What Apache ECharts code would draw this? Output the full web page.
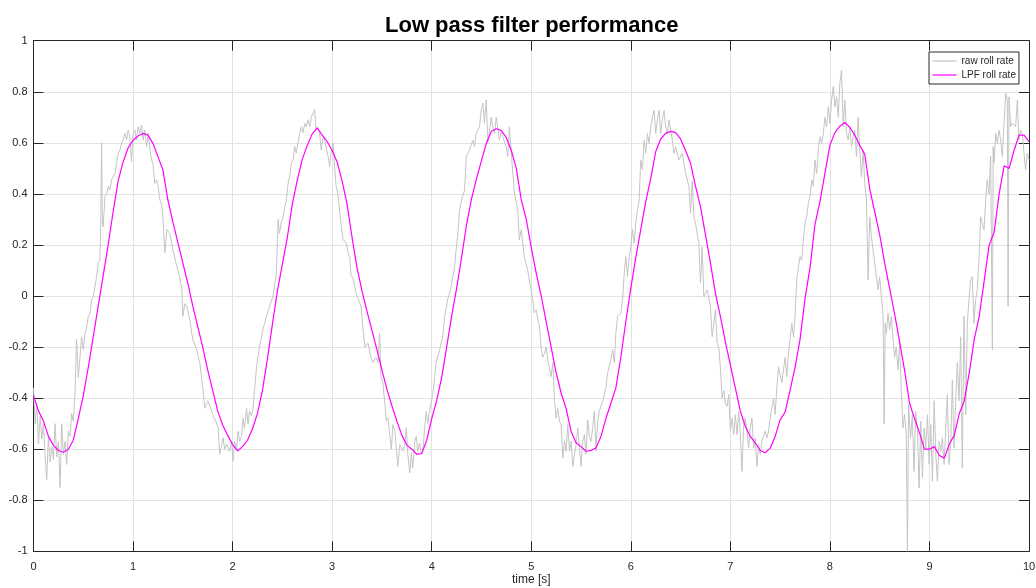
<!DOCTYPE html>
<html>
<head>
<meta charset="utf-8">
<script src="https://cdn.jsdelivr.net/npm/echarts@6/dist/echarts.min.js"></script>
<style>
html,body{margin:0;padding:0;background:#fff;}
#chart{width:1036px;height:588px;}
</style>
</head>
<body>
<div id="chart"></div>
<script>
// ---- data ----
const chartTitle = 'Low pass filter performance';
const seriesNames = ['raw roll rate', 'LPF roll rate'];
const xTicks = [0,1,2,3,4,5,6,7,8,9,10];
const yTicks = [-1,-0.8,-0.6,-0.4,-0.2,0,0.2,0.4,0.6,0.8,1];

// LPF roll rate sampled every 0.05 s from t = 0 to t = 10
const lpfStep = 0.05;
const lpfRollRate = [
-0.39,-0.45,-0.49,-0.55,-0.585,-0.605,-0.612,-0.60,-0.565,-0.48,
-0.39,-0.28,-0.16,-0.04,0.08,0.20,0.33,0.45,0.525,0.58,
0.61,0.627,0.637,0.63,0.598,0.546,0.494,0.376,0.29,0.21,
0.13,0.05,-0.04,-0.12,-0.20,-0.29,-0.37,-0.45,-0.505,-0.545,
-0.582,-0.607,-0.59,-0.565,-0.52,-0.46,-0.37,-0.245,-0.11,0.02,
0.125,0.23,0.36,0.455,0.535,0.59,0.635,0.658,0.63,0.605,
0.57,0.525,0.45,0.36,0.23,0.11,0.02,-0.06,-0.135,-0.21,
-0.29,-0.365,-0.43,-0.49,-0.545,-0.584,-0.60,-0.62,-0.617,-0.565,
-0.48,-0.41,-0.32,-0.20,-0.08,0.03,0.15,0.28,0.38,0.46,
0.53,0.60,0.645,0.655,0.648,0.62,0.57,0.50,0.376,0.30,
0.19,0.09,0.0,-0.10,-0.20,-0.30,-0.38,-0.44,-0.53,-0.575,
-0.59,-0.608,-0.605,-0.595,-0.55,-0.48,-0.42,-0.36,-0.24,-0.10,
0.03,0.15,0.26,0.37,0.46,0.565,0.615,0.637,0.645,0.64,
0.615,0.57,0.52,0.43,0.35,0.24,0.13,0.01,-0.08,-0.18,
-0.27,-0.36,-0.45,-0.51,-0.55,-0.575,-0.605,-0.614,-0.596,-0.55,
-0.485,-0.455,-0.37,-0.28,-0.17,-0.01,0.11,0.28,0.37,0.48,
0.59,0.64,0.665,0.68,0.66,0.63,0.59,0.555,0.42,0.33,
0.24,0.13,0.03,-0.07,-0.18,-0.29,-0.42,-0.48,-0.535,-0.60,
-0.60,-0.59,-0.625,-0.635,-0.58,-0.545,-0.46,-0.41,-0.30,-0.17,
-0.08,0.06,0.20,0.25,0.40,0.51,0.50,0.57,0.63,0.63,
0.605
];

// raw roll rate: [time (s), value]
const rawRollRate = [
[0.000,-0.36],[0.017,-0.50],[0.033,-0.42],[0.050,-0.58],[0.067,-0.47],[0.083,-0.56],[0.100,-0.50],[0.117,-0.63],[0.133,-0.72],[0.150,-0.55],
[0.167,-0.65],[0.183,-0.59],[0.200,-0.64],[0.217,-0.50],[0.233,-0.63],[0.250,-0.57],[0.267,-0.75],[0.283,-0.50],[0.300,-0.62],[0.317,-0.57],
[0.333,-0.66],[0.350,-0.53],[0.367,-0.55],[0.383,-0.46],[0.400,-0.49],[0.417,-0.38],[0.433,-0.17],[0.450,-0.32],[0.467,-0.24],[0.483,-0.16],
[0.500,-0.21],[0.517,-0.15],[0.534,-0.12],[0.550,-0.08],[0.567,-0.07],[0.584,-0.015],[0.600,-0.003],[0.617,0.036],[0.634,0.076],[0.650,0.128],
[0.667,0.14],[0.676,0.29],[0.684,0.60],[0.692,0.28],[0.700,0.27],[0.718,0.39],[0.735,0.40],[0.751,0.43],[0.768,0.415],[0.784,0.455],
[0.800,0.448],[0.818,0.48],[0.835,0.52],[0.851,0.559],[0.868,0.572],[0.885,0.598],[0.900,0.611],[0.918,0.637],[0.935,0.611],[0.951,0.65],
[0.968,0.624],[0.985,0.526],[1.000,0.637],[1.018,0.65],[1.035,0.611],[1.051,0.663],[1.068,0.637],[1.085,0.67],[1.100,0.611],[1.118,0.65],
[1.136,0.585],[1.152,0.637],[1.170,0.572],[1.186,0.533],[1.200,0.52],[1.218,0.441],[1.236,0.455],[1.252,0.43],[1.270,0.376],[1.285,0.36],
[1.300,0.31],[1.320,0.17],[1.340,0.26],[1.370,0.245],[1.400,0.18],[1.440,0.115],[1.470,0.07],[1.490,0.024],[1.500,-0.08],[1.520,-0.03],
[1.540,-0.04],[1.570,-0.094],[1.600,-0.17],[1.630,-0.20],[1.670,-0.26],[1.700,-0.36],[1.720,-0.44],[1.750,-0.41],[1.780,-0.44],[1.800,-0.465],
[1.830,-0.49],[1.855,-0.517],[1.870,-0.62],[1.905,-0.556],[1.920,-0.60],[1.940,-0.58],[1.970,-0.608],[1.990,-0.57],[2.005,-0.647],[2.020,-0.569],
[2.040,-0.60],[2.055,-0.53],[2.070,-0.57],[2.090,-0.55],[2.105,-0.478],[2.120,-0.52],[2.140,-0.44],[2.155,-0.50],[2.170,-0.45],[2.190,-0.47],
[2.205,-0.44],[2.220,-0.37],[2.240,-0.28],[2.270,-0.20],[2.305,-0.13],[2.340,-0.08],[2.373,-0.04],[2.406,0.0],[2.440,0.09],[2.457,0.30],
[2.470,0.245],[2.490,0.29],[2.507,0.31],[2.524,0.35],[2.540,0.376],[2.557,0.44],[2.574,0.47],[2.590,0.52],[2.607,0.533],[2.624,0.585],
[2.640,0.56],[2.657,0.60],[2.674,0.637],[2.690,0.663],[2.707,0.64],[2.724,0.676],[2.740,0.663],[2.757,0.69],[2.774,0.663],[2.790,0.70],
[2.810,0.70],[2.824,0.73],[2.840,0.65],[2.857,0.66],[2.874,0.637],[2.890,0.572],[2.908,0.62],[2.925,0.61],[2.940,0.58],[2.960,0.546],
[2.975,0.506],[2.990,0.56],[3.010,0.598],[3.025,0.506],[3.040,0.43],[3.058,0.40],[3.076,0.33],[3.090,0.28],[3.110,0.22],[3.140,0.21],
[3.160,0.17],[3.176,0.154],[3.190,0.08],[3.210,0.07],[3.226,0.063],[3.240,0.01],[3.260,-0.01],[3.290,-0.04],[3.310,-0.13],[3.330,-0.20],
[3.360,-0.185],[3.390,-0.24],[3.410,-0.26],[3.440,-0.24],[3.460,-0.26],[3.477,-0.146],[3.490,-0.316],[3.510,-0.34],[3.530,-0.426],[3.545,-0.49],
[3.560,-0.478],[3.595,-0.60],[3.610,-0.504],[3.630,-0.53],[3.660,-0.667],[3.680,-0.582],[3.710,-0.608],[3.730,-0.582],[3.745,-0.517],[3.760,-0.62],
[3.780,-0.693],[3.795,-0.615],[3.810,-0.674],[3.830,-0.569],[3.845,-0.55],[3.860,-0.608],[3.880,-0.576],[3.895,-0.62],[3.910,-0.608],[3.930,-0.517],
[3.945,-0.452],[3.960,-0.50],[3.980,-0.445],[4.010,-0.386],[4.030,-0.316],[4.045,-0.26],[4.080,-0.21],[4.110,-0.16],[4.130,-0.08],[4.160,-0.015],
[4.195,0.036],[4.230,0.115],[4.245,0.18],[4.260,0.232],[4.280,0.337],[4.300,0.376],[4.330,0.415],[4.347,0.546],[4.380,0.572],[4.413,0.611],
[4.430,0.585],[4.447,0.637],[4.480,0.663],[4.497,0.728],[4.514,0.755],[4.530,0.676],[4.548,0.768],[4.564,0.598],[4.598,0.70],[4.614,0.66],
[4.631,0.637],[4.648,0.70],[4.680,0.611],[4.697,0.64],[4.714,0.624],[4.748,0.585],[4.764,0.546],[4.780,0.663],[4.798,0.572],[4.815,0.48],
[4.832,0.40],[4.865,0.337],[4.880,0.22],[4.900,0.26],[4.930,0.154],[4.965,0.10],[4.980,0.063],[5.015,-0.015],[5.030,-0.067],[5.050,-0.054],
[5.066,-0.094],[5.083,-0.12],[5.100,-0.21],[5.116,-0.24],[5.133,-0.224],[5.150,-0.20],[5.166,-0.25],[5.200,-0.316],[5.217,-0.26],[5.233,-0.41],
[5.250,-0.478],[5.266,-0.44],[5.283,-0.49],[5.300,-0.504],[5.317,-0.635],[5.334,-0.569],[5.350,-0.608],[5.367,-0.504],[5.384,-0.608],[5.400,-0.569],
[5.417,-0.667],[5.434,-0.62],[5.450,-0.582],[5.467,-0.517],[5.484,-0.595],[5.500,-0.667],[5.517,-0.569],[5.534,-0.543],[5.550,-0.62],[5.567,-0.485],
[5.584,-0.55],[5.600,-0.569],[5.617,-0.517],[5.634,-0.452],[5.650,-0.608],[5.667,-0.49],[5.684,-0.452],[5.718,-0.41],[5.750,-0.36],[5.767,-0.30],
[5.800,-0.25],[5.817,-0.21],[5.834,-0.26],[5.850,-0.146],[5.867,-0.08],[5.900,-0.067],[5.917,-0.015],[5.934,0.089],[5.950,0.154],[5.967,0.076],
[5.984,0.154],[6.000,0.193],[6.017,0.26],[6.034,0.206],[6.050,0.285],[6.067,0.337],[6.084,0.376],[6.100,0.533],[6.117,0.494],[6.134,0.611],
[6.150,0.559],[6.167,0.637],[6.184,0.598],[6.200,0.66],[6.217,0.70],[6.234,0.728],[6.250,0.637],[6.267,0.69],[6.284,0.728],[6.300,0.637],
[6.317,0.69],[6.334,0.728],[6.350,0.663],[6.367,0.637],[6.384,0.69],[6.400,0.65],[6.417,0.611],[6.434,0.559],[6.450,0.585],[6.484,0.533],
[6.517,0.559],[6.550,0.48],[6.584,0.43],[6.600,0.324],[6.617,0.45],[6.634,0.31],[6.650,0.285],[6.684,0.206],[6.700,0.05],[6.717,0.193],
[6.734,-0.003],[6.767,0.024],[6.800,-0.04],[6.817,-0.16],[6.850,-0.054],[6.867,-0.185],[6.884,-0.20],[6.900,-0.28],[6.917,-0.40],[6.934,-0.37],
[6.950,-0.42],[6.967,-0.432],[6.984,-0.386],[7.000,-0.53],[7.017,-0.478],[7.034,-0.543],[7.050,-0.465],[7.067,-0.543],[7.084,-0.452],[7.100,-0.537],
[7.117,-0.687],[7.134,-0.504],[7.150,-0.478],[7.167,-0.53],[7.184,-0.595],[7.200,-0.517],[7.217,-0.478],[7.234,-0.595],[7.250,-0.556],[7.267,-0.667],
[7.284,-0.582],[7.300,-0.62],[7.317,-0.569],[7.350,-0.53],[7.367,-0.556],[7.384,-0.53],[7.400,-0.478],[7.434,-0.40],[7.450,-0.465],[7.467,-0.36],
[7.484,-0.277],[7.517,-0.34],[7.550,-0.24],[7.567,-0.316],[7.584,-0.224],[7.600,-0.17],[7.617,-0.107],[7.634,-0.16],[7.650,-0.08],[7.667,0.063],
[7.684,0.115],[7.700,0.154],[7.717,0.14],[7.734,0.22],[7.750,0.285],[7.767,0.31],[7.784,0.363],[7.800,0.39],[7.817,0.455],[7.834,0.43],
[7.850,0.533],[7.867,0.48],[7.884,0.572],[7.900,0.624],[7.917,0.598],[7.934,0.637],[7.950,0.70],[7.967,0.663],[7.984,0.741],[8.000,0.676],
[8.017,0.768],[8.034,0.82],[8.050,0.741],[8.067,0.78],[8.084,0.70],[8.100,0.833],[8.117,0.885],[8.134,0.663],[8.150,0.768],[8.167,0.637],
[8.184,0.611],[8.200,0.663],[8.217,0.585],[8.234,0.624],[8.250,0.65],[8.267,0.546],[8.284,0.70],[8.300,0.572],[8.317,0.467],[8.334,0.572],
[8.350,0.441],[8.367,0.376],[8.384,0.063],[8.400,0.31],[8.417,0.232],[8.450,0.128],[8.484,0.024],[8.500,0.076],[8.517,-0.003],[8.534,-0.068],
[8.545,-0.50],[8.555,-0.107],[8.567,-0.146],[8.584,-0.068],[8.600,-0.133],[8.617,-0.08],[8.650,-0.24],[8.667,-0.20],[8.684,-0.29],[8.700,-0.185],
[8.717,-0.368],[8.734,-0.517],[8.750,-0.465],[8.767,-0.543],[8.779,-1.0],[8.790,-0.426],[8.810,-0.556],[8.828,-0.465],[8.845,-0.687],[8.862,-0.452],
[8.880,-0.53],[8.896,-0.752],[8.913,-0.49],[8.930,-0.713],[8.946,-0.517],[8.963,-0.595],[8.980,-0.465],[8.997,-0.66],[9.013,-0.504],[9.030,-0.726],
[9.047,-0.41],[9.064,-0.62],[9.080,-0.726],[9.097,-0.569],[9.114,-0.608],[9.130,-0.556],[9.147,-0.66],[9.164,-0.517],[9.180,-0.386],[9.197,-0.66],
[9.214,-0.569],[9.230,-0.33],[9.247,-0.595],[9.264,-0.41],[9.280,-0.26],[9.297,-0.41],[9.314,-0.16],[9.330,-0.674],[9.347,-0.08],[9.365,-0.465],
[9.380,-0.107],[9.397,-0.015],[9.414,0.063],[9.430,0.076],[9.447,-0.107],[9.464,-0.015],[9.480,0.024],[9.497,0.14],[9.514,0.31],[9.530,0.31],
[9.548,0.258],[9.565,0.376],[9.580,0.455],[9.598,0.40],[9.615,0.546],[9.632,-0.21],[9.640,0.585],[9.648,0.52],[9.666,0.637],[9.682,0.598],
[9.699,0.65],[9.716,0.611],[9.732,0.546],[9.749,0.676],[9.766,0.794],[9.782,0.768],[9.790,-0.04],[9.799,0.78],[9.816,0.663],[9.832,0.676],
[9.849,0.676],[9.866,0.663],[9.883,0.768],[9.899,0.611],[9.916,0.65],[9.933,0.637],[9.950,0.559],[9.966,0.494],[9.983,0.559],[10.000,0.533]
];

// ---- build ----
const lpfData = lpfRollRate.map((v, i) => [+(i * lpfStep).toFixed(2), v]);
const FONT = '"Liberation Sans", Arial, Helvetica, sans-serif';
const AX = '#262626';

const chart = echarts.init(document.getElementById('chart'), null, {renderer: 'canvas'});
const baseX = {type: 'value', min: xTicks[0], max: xTicks[xTicks.length - 1], interval: 1};
const baseY = {type: 'value', min: yTicks[0], max: yTicks[yTicks.length - 1], interval: 0.2};
chart.setOption({
  animation: false,
  backgroundColor: '#ffffff',
  title: {
    text: chartTitle, left: 385, top: 15, padding: 0,
    textStyle: {fontFamily: FONT, fontWeight: 'bold', fontSize: 22, color: '#000'}
  },
  legend: {
    orient: 'vertical', left: 929, top: 52, data: seriesNames,
    icon: 'rect', itemWidth: 24, itemHeight: 1.2, itemGap: 2,
    padding: [3, 3, 3, 3.5], backgroundColor: '#fff', borderColor: AX, borderWidth: 1, borderRadius: 0,
    textStyle: {fontFamily: FONT, fontSize: 10, color: AX, lineHeight: 12}
  },
  grid: {left: 33.5, right: 7, top: 40.7, bottom: 36.7, containLabel: false, outerBoundsMode: 'none'},
  xAxis: [
    Object.assign({}, baseX, {
      position: 'bottom', name: 'time [s]', nameLocation: 'middle', nameGap: 22, nameMoveOverlap: false,
      nameTextStyle: {fontFamily: FONT, fontSize: 12, color: AX},
      axisLine: {onZero: false, lineStyle: {color: AX, width: 1}},
      axisTick: {inside: true, length: 10, lineStyle: {color: AX}},
      axisLabel: {fontFamily: FONT, fontSize: 11, color: AX, margin: 10},
      splitLine: {show: true, lineStyle: {color: '#e2e2e2', width: 1}}
    }),
    Object.assign({}, baseX, {
      position: 'top',
      axisLine: {onZero: false, lineStyle: {color: AX, width: 1}},
      axisTick: {inside: true, length: 10, lineStyle: {color: AX}},
      axisLabel: {show: false}, splitLine: {show: false}
    })
  ],
  yAxis: [
    Object.assign({}, baseY, {
      position: 'left',
      axisLine: {onZero: false, lineStyle: {color: AX, width: 1}},
      axisTick: {inside: true, length: 10, lineStyle: {color: AX}},
      axisLabel: {fontFamily: FONT, fontSize: 11, color: AX, margin: 6},
      splitLine: {show: true, lineStyle: {color: '#e2e2e2', width: 1}}
    }),
    Object.assign({}, baseY, {
      position: 'right',
      axisLine: {onZero: false, lineStyle: {color: AX, width: 1}},
      axisTick: {inside: true, length: 10, lineStyle: {color: AX}},
      axisLabel: {show: false}, splitLine: {show: false}
    })
  ],
  series: [
    {
      name: seriesNames[0], type: 'line', data: rawRollRate, xAxisIndex: 0, yAxisIndex: 0,
      symbol: 'none', showSymbol: false, color: '#c4c4c4',
      lineStyle: {color: '#c4c4c4', width: 1}, z: 2
    },
    {
      name: seriesNames[1], type: 'line', data: lpfData, xAxisIndex: 0, yAxisIndex: 0,
      symbol: 'none', showSymbol: false, color: '#ff00ff',
      lineStyle: {color: '#ff00ff', width: 1.2}, z: 3
    }
  ]
});
</script>
</body>
</html>
